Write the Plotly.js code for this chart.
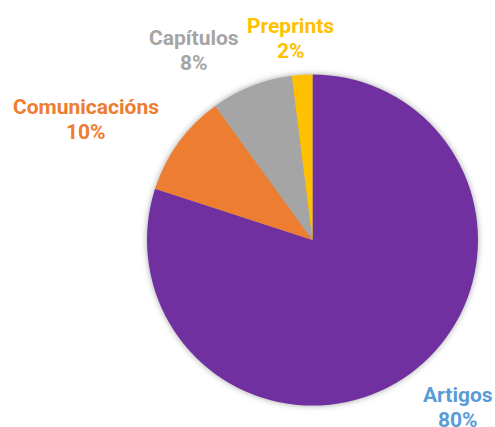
<!DOCTYPE html>
<html>
<head>
<meta charset="utf-8">
<script src="https://cdn.plot.ly/plotly-3.0.1.min.js"></script>
<style>
html,body{margin:0;padding:0;background:#fff;}
#chart{width:495px;height:427px;}
.pielayer{filter:drop-shadow(0px 0px 3px rgba(0,0,0,0.35));}
</style>
</head>
<body>
<div id="chart"></div>
<script>
// Data
const categories = ["Artigos", "Comunicacións", "Capítulos", "Preprints"];
const values = [80, 10, 8, 2];
const percentLabels = ["80%", "10%", "8%", "2%"];

// Styles
const sliceColors = ["#7030A0", "#ED7D31", "#A5A5A5", "#FFC000"];
const labelColors = ["#5B9BD5", "#ED7D31", "#A5A5A5", "#FFC000"];
// [center x, baseline of first line] in pixels
const labelPos = [[458, 402], [86, 114], [193.5, 45.7], [290.5, 33]];
const lineGap = 25;
const fontSize = 21;

const W = 495, H = 427;
const cx = 312.5, cy = 240, r = 165.5;

const trace = {
  type: "pie",
  labels: categories,
  values: values,
  sort: false,
  direction: "clockwise",
  rotation: 0,
  textinfo: "none",
  hoverinfo: "label+percent",
  marker: {colors: sliceColors, line: {width: 0}},
  domain: {
    x: [(cx - r) / W, (cx + r) / W],
    y: [1 - (cy + r) / H, 1 - (cy - r) / H]
  },
  showlegend: false
};

const annotations = [];
categories.forEach((c, i) => {
  [c, percentLabels[i]].forEach((t, k) => {
    const base = labelPos[i][1] + k * lineGap;
    annotations.push({
      xref: "paper", yref: "paper",
      x: labelPos[i][0] / W,
      y: 1 - (base - 0.355 * fontSize) / H,
      xanchor: "center", yanchor: "middle",
      showarrow: false,
      borderpad: 0,
      text: "<b>" + t + "</b>",
      font: {family: "Roboto, sans-serif", size: fontSize, color: labelColors[i]}
    });
  });
});

const layout = {
  width: W, height: H,
  margin: {l: 0, r: 0, t: 0, b: 0},
  paper_bgcolor: "#ffffff",
  plot_bgcolor: "#ffffff",
  annotations: annotations,
  showlegend: false
};

Plotly.newPlot("chart", [trace], layout, {displayModeBar: false, staticPlot: true});
</script>
</body>
</html>
